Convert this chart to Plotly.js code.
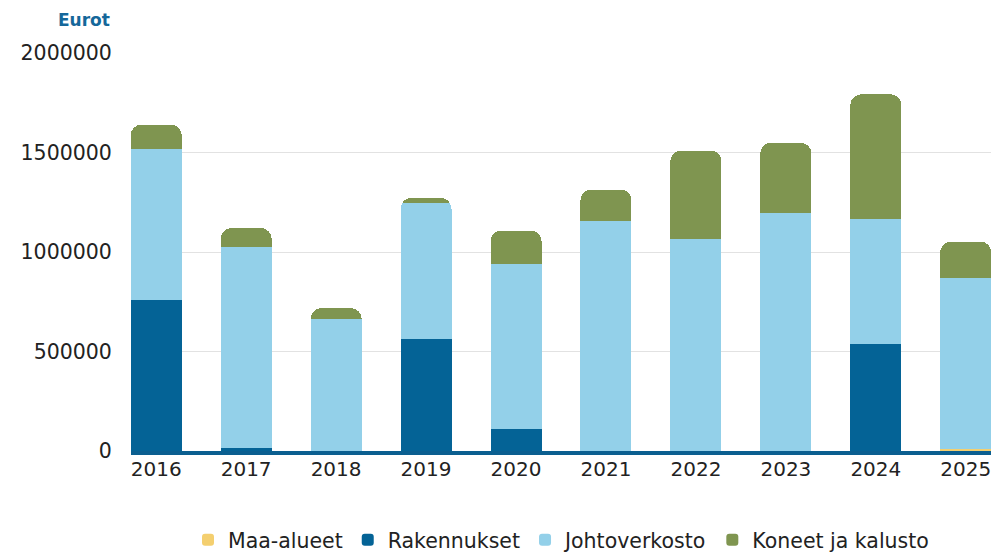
<!DOCTYPE html>
<html>
<head>
<meta charset="utf-8">
<script src="https://cdn.plot.ly/plotly-3.0.1.min.js"></script>
<style>html,body{margin:0;padding:0;background:#fff;}#chart{width:992px;height:554px;}</style>
</head>
<body>
<div id="chart"></div>
<script>
const years = ["2016","2017","2018","2019","2020","2021","2022","2023","2024","2025"];
const maaAlueet = [0, 0, 0, 0, 0, 0, 0, 0, 0, 9000];
const rakennukset = [760000, 15000, 0, 564000, 110000, 0, 0, 0, 540000, 0];
const johtoverkosto = [760000, 1010000, 663000, 680000, 832000, 1158000, 1064000, 1197000, 625000, 862000];
const koneetJaKalusto = [120000, 95000, 55000, 28000, 166000, 155000, 446000, 352000, 627000, 181000];
const yTicks = [0, 500000, 1000000, 1500000, 2000000];

const series = [
  {name: "Maa-alueet", y: maaAlueet, color: "#f4cf6f"},
  {name: "Rakennukset", y: rakennukset, color: "#046396"},
  {name: "Johtoverkosto", y: johtoverkosto, color: "#93d0e9"},
  {name: "Koneet ja kalusto", y: koneetJaKalusto, color: "#7f9550"}
];

const data = series.map(s => ({
  type: "bar",
  name: s.name,
  x: years,
  y: s.y,
  marker: {color: s.color, line: {width: 0}},
  hoverinfo: "x+y+name"
}));

const font = "'DejaVu Sans', sans-serif";

const layout = {
  width: 992,
  height: 554,
  margin: {l: 131, r: 1, t: 53, b: 103, autoexpand: false},
  paper_bgcolor: "#ffffff",
  plot_bgcolor: "#ffffff",
  barmode: "stack",
  bargap: 0.433,
  barcornerradius: 11,
  font: {family: font, size: 20, color: "#222222"},
  xaxis: {
    type: "category",
    range: [-0.28, 9.28],
    showgrid: false,
    showline: true,
    linecolor: "#0b5f90",
    linewidth: 4,
    ticks: "",
    ticklabelstandoff: -3,
    tickfont: {family: font, size: 20, color: "#222222"},
    fixedrange: true,
    automargin: false
  },
  yaxis: {
    range: [0, 2000000],
    tickvals: yTicks,
    ticktext: yTicks.map(v => String(v)),
    showgrid: true,
    gridcolor: "#e2e2e2",
    gridwidth: 1,
    zeroline: false,
    showline: false,
    ticks: "outside",
    ticklen: 14,
    tickcolor: "rgba(0,0,0,0)",
    tickfont: {family: font, size: 20.5, color: "#222222"},
    fixedrange: true,
    automargin: false
  },
  showlegend: true,
  legend: {
    orientation: "h",
    x: 0.5,
    xanchor: "center",
    y: -0.2236,
    yanchor: "middle",
    font: {family: font, size: 20.5, color: "#222222"},
    traceorder: "normal",
    itemclick: false
  },
  annotations: [{
    text: "<b>Eurot</b>",
    xref: "paper",
    yref: "paper",
    x: -0.022,
    xanchor: "right",
    y: 1.0,
    yshift: 33,
    yanchor: "middle",
    showarrow: false,
    font: {family: font, size: 17, color: "#15679a"}
  }]
};

Plotly.newPlot("chart", data, layout, {displayModeBar: false, staticPlot: true});
</script>
</body>
</html>
